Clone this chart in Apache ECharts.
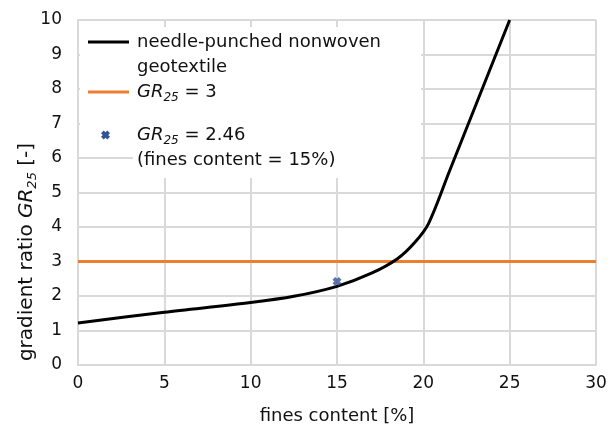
<!DOCTYPE html>
<html>
<head>
<meta charset="utf-8">
<script src="https://cdn.jsdelivr.net/npm/echarts@6/dist/echarts.min.js"></script>
<style>
  html, body { margin: 0; padding: 0; background: #fff; }
  #chart { width: 615px; height: 430px; }
</style>
</head>
<body>
<div id="chart"></div>
<script>
// fines content [%] vs gradient ratio GR25
const fines = [0, 5, 10, 12.5, 15, 17, 18.5, 19.5, 20.3, 21.5, 25];
const gradientRatio = [1.22, 1.53, 1.81, 1.99, 2.28, 2.66, 3.08, 3.55, 4.1, 5.6, 10];

// GR25 = 3 limit
const limitX = [0, 30];
const limitY = [3, 3];

// measured point
const pointX = [15];
const pointY = [2.42];

const font = 'DejaVu Sans';
const gridColor = '#d9d9d9';
const xMarker = 'path://M3,0 L5,2 L7,0 L10,3 L8,5 L10,7 L7,10 L5,8 L3,10 L0,7 L2,5 L0,3 Z';
// same shape for the legend sample, in a 10x10 box
const markerPts = [[3,0],[5,2],[7,0],[10,3],[8,5],[10,7],[7,10],[5,8],[3,10],[0,7],[2,5],[0,3]];

function richSet(size) {
  return {
    n: { fontFamily: font, fontSize: size, color: '#111', lineHeight: 24 },
    it: { fontFamily: font, fontSize: size, fontStyle: 'italic', color: '#111', lineHeight: 24 },
    sub: { fontFamily: font, fontSize: Math.round(size * 0.67), fontStyle: 'italic', color: '#111', verticalAlign: 'bottom', lineHeight: 24 }
  };
}
const rich = richSet(18);

function text(x, y, str, extra) {
  return Object.assign({
    type: 'text', x: x, y: y, z: 10,
    style: { text: str, rich: rich, font: '18px "' + font + '"', fill: '#111', verticalAlign: 'middle' }
  }, extra || {});
}

const chart = echarts.init(document.getElementById('chart'));
chart.setOption({
  animation: false,
  textStyle: { fontFamily: font },
  grid: { left: 78, right: 19, top: 20, bottom: 60, containLabel: false },
  xAxis: {
    type: 'value', min: 0, max: 30, interval: 5,
    name: 'fines content [%]', nameLocation: 'middle', nameGap: 42,
    nameTextStyle: { fontFamily: font, fontSize: 18, color: '#111' },
    axisLine: { show: true, lineStyle: { color: gridColor, width: 2 } },
    axisTick: { show: false },
    axisLabel: { fontFamily: font, fontSize: 17, color: '#111', margin: 10 },
    splitLine: { show: true, lineStyle: { color: gridColor, width: 2 } }
  },
  yAxis: {
    type: 'value', min: 0, max: 10, interval: 1,
    axisLine: { show: true, lineStyle: { color: gridColor, width: 2 } },
    axisTick: { show: false },
    axisLabel: { fontFamily: font, fontSize: 17, color: '#111', margin: 16 },
    splitLine: { show: true, lineStyle: { color: gridColor, width: 2 } }
  },
  graphic: [
    // legend background (hides gridlines)
    { type: 'rect', z: 1, shape: { x: 80, y: 27, width: 341, height: 123 }, style: { fill: '#fff' } },
    { type: 'rect', z: 1, shape: { x: 133, y: 27, width: 288, height: 151 }, style: { fill: '#fff' } },
    { type: 'line', z: 10, shape: { x1: 88, y1: 42, x2: 129, y2: 42 }, style: { stroke: '#000', lineWidth: 3 } },
    text(137, 42, 'needle-punched nonwoven'),
    text(137, 67, 'geotextile'),
    { type: 'line', z: 10, shape: { x1: 88, y1: 92, x2: 129, y2: 92 }, style: { stroke: '#ed7d31', lineWidth: 3 } },
    text(137, 92, '{it|GR}{sub|25}{n| = 3}'),
    { type: 'polygon', z: 10, shape: { points: markerPts.map(p => [101 + p[0] * 0.9, 130.5 + p[1] * 0.9]) }, style: { fill: '#2f5597' } },
    text(137, 135, '{it|GR}{sub|25}{n| = 2.46}'),
    text(137, 160, '(fines content = 15%)'),
    // y axis title
    { type: 'text', x: 27, y: 252, z: 10, rotation: Math.PI / 2,
      style: { text: '{n|gradient ratio }{it|GR}{sub|25}{n| [-]}', rich: richSet(20), fill: '#111', align: 'center', verticalAlign: 'middle' } }
  ],
  series: [
    {
      name: 'GR25 = 3', type: 'line', z: 3,
      data: limitX.map((x, i) => [x, limitY[i]]),
      showSymbol: false,
      lineStyle: { color: '#ed7d31', width: 3 }
    },
    {
      name: 'needle-punched nonwoven geotextile', type: 'line', z: 4,
      data: fines.map((x, i) => [x, gradientRatio[i]]),
      smooth: 0.3,
      showSymbol: false,
      lineStyle: { color: '#000', width: 3 }
    },
    {
      name: 'GR25 = 2.46', type: 'scatter', z: 5,
      data: pointX.map((x, i) => [x, pointY[i]]),
      symbol: xMarker, symbolSize: 9,
      itemStyle: { color: '#2f5597' }
    }
  ]
});
</script>
</body>
</html>
